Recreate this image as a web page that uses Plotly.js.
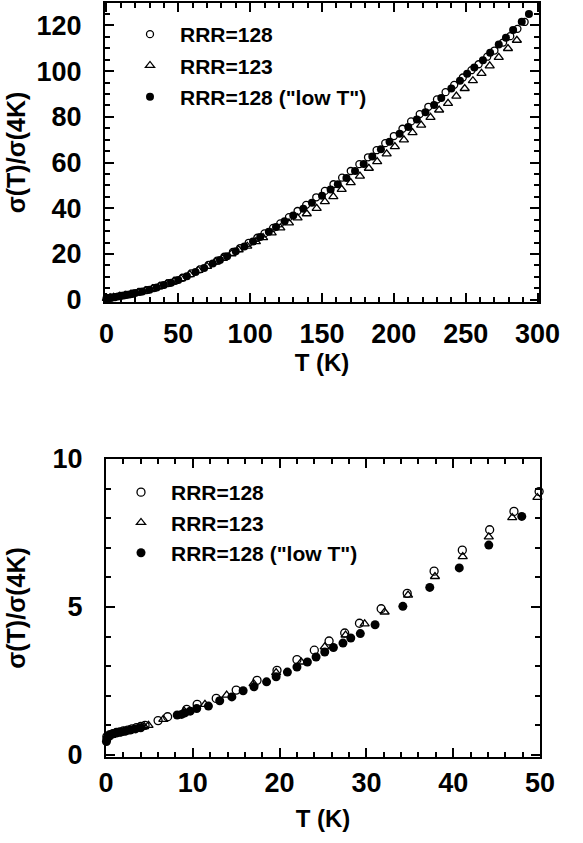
<!DOCTYPE html>
<html><head><meta charset="utf-8">
<script src="https://cdn.plot.ly/plotly-3.0.1.min.js"></script>
<style>html,body{margin:0;padding:0;background:#fff}#chart{width:583px;height:843px}</style>
</head><body><div id="chart"></div><script>
// ---------- Top panel (0-300 K) ----------
const topT_open = [0.5, 3, 6, 10, 14, 18, 23, 28, 33, 38, 43, 48, 53, 59, 65, 71, 77, 82, 88, 93, 99, 105, 110, 116, 121, 127, 133, 139, 146, 152, 158, 164, 170, 176, 182, 188, 194, 200, 206, 212, 218, 224, 230, 236, 242, 248, 254, 259, 265, 270, 276, 281, 286, 291];
const topV_open = [0.62, 0.88, 1.16, 1.68, 2.1, 2.6, 3.4, 4.2, 5.1, 6.2, 7.3, 8.3, 9.6, 11.5, 13.3, 15.2, 17.1, 18.8, 20.9, 22.6, 24.9, 27.1, 29.0, 31.4, 33.4, 36.1, 38.8, 41.5, 44.8, 47.6, 50.5, 53.4, 56.3, 59.3, 62.3, 65.4, 68.5, 71.6, 74.8, 78.0, 81.2, 84.4, 87.6, 90.8, 94.0, 97.2, 100.4, 103.0, 106.3, 109.0, 112.5, 115.3, 118.5, 121.5];
const topT_tri = [0.3, 2.5, 5, 9, 13, 17, 22, 27, 32, 37, 42, 47, 52, 58, 64, 70, 76, 81, 87, 92, 98, 104, 109, 115, 121, 127, 133, 139.4, 146.3, 152, 157.9, 163.7, 170, 176.4, 182.6, 188.4, 195, 200.7, 207, 213, 219, 225.5, 231.5, 237.7, 243.5, 249.3, 255, 261, 266.7, 273, 279.4, 285.6];
const topV_tri = [0.6, 0.85, 1.08, 1.5, 1.95, 2.4, 3.1, 3.9, 4.8, 5.8, 6.8, 8.0, 9.2, 11.0, 12.8, 14.6, 16.5, 18.1, 20.1, 21.8, 23.4, 25.4, 27.2, 29.2, 31.4, 33.6, 35.8, 37.6, 40.0, 42.9, 45.1, 48.3, 51.2, 54.1, 57.5, 60.4, 63.8, 67.0, 69.9, 73.1, 76.4, 79.8, 83.0, 85.9, 89.1, 92.4, 95.8, 99.0, 102.3, 106.0, 109.9, 113.5];
const topT_low = [0, 2, 4, 8, 12, 16, 20, 25, 30, 35, 40, 45, 50, 56, 62, 68, 74, 79, 84, 90, 96, 102, 107, 113, 118, 124, 130, 137, 143, 150, 156, 161, 167, 173, 179, 185, 191, 197, 204, 210, 216, 222, 228, 233, 240, 246, 251, 256, 262, 267, 273, 278, 283, 289, 294];
const topV_low = [0.5, 0.8, 0.95, 1.4, 1.8, 2.3, 2.9, 3.6, 4.4, 5.3, 6.4, 7.4, 8.6, 10.3, 12.1, 13.9, 15.8, 17.4, 19.0, 21.2, 23.3, 25.5, 27.4, 29.7, 31.8, 34.3, 36.8, 39.8, 42.4, 45.5, 48.2, 50.5, 53.2, 56.3, 59.4, 62.6, 65.8, 69.1, 72.6, 75.6, 78.8, 82.0, 85.2, 88.2, 92.4, 95.8, 98.8, 101.6, 104.8, 108.0, 111.6, 114.6, 118.0, 121.6, 125.0];

// ---------- Bottom panel (0-50 K) ----------
const botT_open = [0.1, 0.4, 0.8, 1.2, 1.6, 2.0, 2.5, 3.0, 3.5, 4.0, 4.5, 6.0, 7.1, 9.3, 10.5, 12.7, 15.0, 17.4, 19.7, 22.0, 24.0, 25.7, 27.5, 29.2, 31.7, 34.7, 37.8, 41.05, 44.2, 47.0, 49.9];
const botV_open = [0.62, 0.68, 0.72, 0.76, 0.78, 0.81, 0.84, 0.88, 0.92, 0.96, 1.0, 1.16, 1.29, 1.54, 1.71, 1.91, 2.19, 2.52, 2.86, 3.22, 3.54, 3.85, 4.12, 4.45, 4.94, 5.46, 6.21, 6.92, 7.61, 8.23, 8.9];
const botT_tri = [0.2, 0.6, 1.0, 1.5, 2.0, 2.6, 3.2, 3.8, 4.4, 4.9, 6.6, 9.0, 11.4, 13.9, 17.0, 19.6, 22.5, 25.2, 27.6, 29.8, 32.1, 34.8, 37.9, 41.1, 44.1, 46.8, 49.7];
const botV_tri = [0.6, 0.66, 0.71, 0.75, 0.79, 0.83, 0.87, 0.91, 0.96, 1.0, 1.2, 1.48, 1.71, 2.02, 2.41, 2.78, 3.14, 3.65, 4.05, 4.43, 4.83, 5.4, 6.03, 6.70, 7.37, 8.02, 8.7];
const botT_low = [0.05, 0.1, 0.15, 0.3, 0.5, 0.8, 1.2, 1.7, 2.2, 2.8, 3.4, 4.0, 8.2, 8.7, 9.1, 9.7, 10.45, 11.8, 13.1, 14.5, 15.8, 17.05, 18.5, 19.6, 20.9, 22.0, 23.2, 24.2, 25.2, 26.2, 27.3, 28.2, 29.3, 31.0, 34.2, 37.3, 40.7, 44.1, 47.9];
const botV_low = [0.45, 0.52, 0.58, 0.64, 0.68, 0.71, 0.74, 0.77, 0.8, 0.84, 0.88, 0.92, 1.35, 1.37, 1.42, 1.48, 1.57, 1.65, 1.83, 1.96, 2.17, 2.30, 2.47, 2.64, 2.80, 2.97, 3.14, 3.31, 3.48, 3.63, 3.78, 3.95, 4.10, 4.40, 5.02, 5.66, 6.32, 7.09, 8.06];

const names = ['RRR=128', 'RRR=123', 'RRR=128 ("low T")'];

const FONT = 'Liberation Sans, Arial, sans-serif';
const W = 583, H = 843;
// plot-area box (pixels)
const ML = 105, MR = 43, MT = 3, MB = 86;
const PW = W - ML - MR, PH = H - MT - MB;
const px = v => (v - ML) / PW;          // pixel x -> paper fraction
const py = v => (H - MB - v) / PH;      // pixel y -> paper fraction

function mk(sym, size, lw){
  return {symbol: sym, size: size, color: '#000', line: {color: '#000', width: lw}};
}
function series(x, y, i, xa, ya, leg, sizes){
  const syms = ['circle-open', 'triangle-up-open', 'circle'];
  return {x: x, y: y, type: 'scatter', mode: 'markers', name: names[i],
    xaxis: xa, yaxis: ya, legend: leg, legendgroup: leg + i,
    marker: mk(syms[i], sizes[i], i === 2 ? 0 : 1.3), cliponaxis: false};
}
const data = [
  series(topT_open, topV_open, 0, 'x', 'y', 'legend', [7, 8, 8]),
  series(topT_tri, topV_tri, 1, 'x', 'y', 'legend', [7, 8, 8]),
  series(topT_low, topV_low, 2, 'x', 'y', 'legend', [7, 8, 8]),
  series(botT_open, botV_open, 0, 'x2', 'y2', 'legend2', [8, 8, 9]),
  series(botT_tri, botV_tri, 1, 'x2', 'y2', 'legend2', [8, 8, 9]),
  series(botT_low, botV_low, 2, 'x2', 'y2', 'legend2', [8, 8, 9])
];

const minorBase = {ticks: 'inside', ticklen: 5, tickwidth: 2, tickcolor: '#000', showgrid: false};
function axis(o){
  return Object.assign({
    ticks: 'inside', ticklen: 9, tickwidth: 2, tickcolor: '#000', tick0: 0,
    showline: true, linewidth: 2, linecolor: '#000', mirror: 'allticks',
    showgrid: false, zeroline: false, automargin: true,
    tickfont: {family: FONT, size: 27, color: '#000', weight: 'bold'}
  }, o);
}
const tfont = {family: FONT, size: 24, color: '#000', weight: 'bold'};
const yfont = {family: FONT, size: 25, color: '#000', weight: 'bold'};

const layout = {
  width: W, height: H, paper_bgcolor: '#fff', plot_bgcolor: '#fff',
  margin: {l: ML, r: MR, t: MT, b: MB, autoexpand: false},
  showlegend: true,
  xaxis: axis({domain: [px(105), px(539)], anchor: 'y', range: [-1, 301], dtick: 50, minor: Object.assign({dtick: 10}, minorBase), ticklabelstandoff: 7,
    title: {text: 'T (K)', font: tfont, standoff: 0}}),
  yaxis: axis({domain: [py(302), py(3)], anchor: 'x', range: [-1, 129.8], dtick: 20, minor: Object.assign({dtick: 5}, minorBase), ticklabelstandoff: 16,
    title: {text: 'σ(T)/σ(4K)', font: yfont, standoff: 4}}),
  xaxis2: axis({domain: [px(106), px(540)], anchor: 'y2', range: [0, 50], dtick: 10, minor: Object.assign({dtick: 2}, minorBase), ticklabelstandoff: 1,
    title: {text: 'T (K)', font: tfont, standoff: 13}}),
  yaxis2: axis({domain: [py(757), py(459)], anchor: 'x2', range: [-0.07, 10], dtick: 5, minor: Object.assign({dtick: 1}, minorBase), ticklabelstandoff: 16,
    title: {text: 'σ(T)/σ(4K)', font: yfont, standoff: 20}}),
  legend: {x: px(120), xanchor: 'left', y: py(14), yanchor: 'top', bgcolor: 'rgba(0,0,0,0)',
    font: {family: FONT, size: 21, color: '#000', weight: 'bold'}, itemwidth: 50,
    traceorder: 'grouped', tracegroupgap: 1},
  legend2: {x: px(111), xanchor: 'left', y: py(472), yanchor: 'top', bgcolor: 'rgba(0,0,0,0)',
    font: {family: FONT, size: 21, color: '#000', weight: 'bold'}, itemwidth: 50,
    traceorder: 'grouped', tracegroupgap: 0}
};

Plotly.newPlot('chart', data, layout, {displayModeBar: false, staticPlot: true});
</script></body></html>
